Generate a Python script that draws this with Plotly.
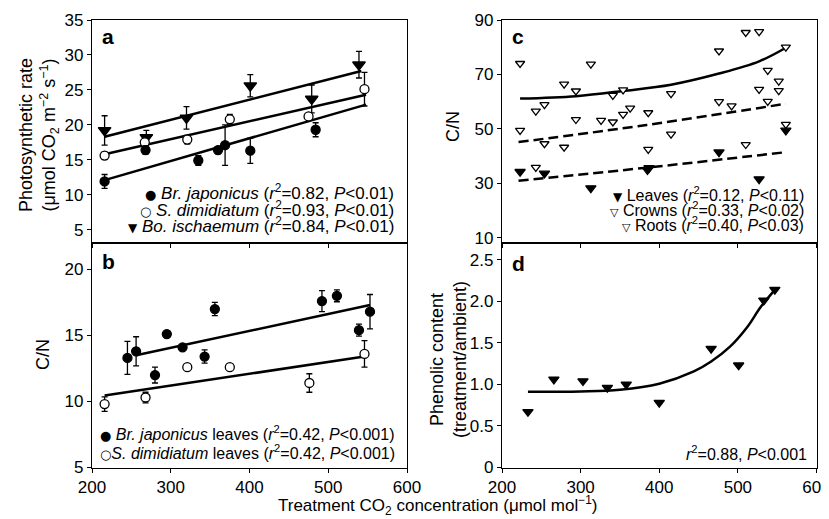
import plotly.graph_objects as go

# Panel a: photosynthetic rate
a_br_x = [216, 268, 335, 360, 369, 401, 484]
a_br_y = [11.9, 16.4, 14.9, 16.4, 17.1, 16.3, 19.3]
a_br_err = [1.0, 0.6, 0.7, 0.5, 2.9, 1.8, 1.0]
a_sd_x = [216, 267, 321, 375, 475, 546]
a_sd_y = [15.6, 17.5, 17.9, 20.8, 21.2, 25.1]
a_sd_err = [0.5, 0.4, 0.6, 0.7, 0.4, 2.4]
a_bo_x = [216, 269, 320, 401, 479, 539]
a_bo_y = [19.2, 18.2, 21.0, 25.6, 23.7, 28.6]
a_bo_err = [2.1, 1.0, 1.6, 1.6, 2.0, 1.9]
a_br_fit_x, a_br_fit_y = [216, 548], [12.1, 22.9]
a_sd_fit_x, a_sd_fit_y = [216, 548], [15.8, 24.3]
a_bo_fit_x, a_bo_fit_y = [216, 542], [18.3, 27.7]

# Panel b: leaf C/N
b_br_x = [245, 256, 280, 295, 315, 343, 356, 492, 511, 539, 553]
b_br_y = [13.3, 13.8, 12.0, 15.1, 14.1, 13.4, 17.0, 17.6, 18.0, 15.4, 16.8]
b_br_err = [1.25, 1.1, 0.6, 0, 0, 0.5, 0.5, 0.8, 0.45, 0.45, 1.3]
b_sd_x = [216, 268, 321, 375, 476, 546]
b_sd_y = [9.8, 10.3, 12.6, 12.6, 11.4, 13.6]
b_sd_err = [0.55, 0.4, 0, 0, 0.7, 1.0]
b_br_fit_x, b_br_fit_y = [256, 553], [13.5, 17.3]
b_sd_fit_x, b_sd_fit_y = [216, 546], [10.45, 13.4]

# Panel c: C/N of leaves, crowns, roots
c_roots_x = [223, 279, 294, 313, 341, 354, 415, 476, 510, 527, 527, 538, 552, 552, 561]
c_roots_y = [74.0, 66.4, 63.9, 73.8, 62.3, 64.3, 62.9, 78.6, 85.4, 85.7, 64.5, 71.5, 67.5, 64.0, 80.0]
c_crowns_x = [223, 243, 243, 254, 254, 279, 294, 326, 341, 354, 363, 386, 386, 415, 476, 492, 510, 538, 561]
c_crowns_y = [49.4, 56.5, 35.8, 58.9, 44.5, 43.2, 53.4, 53.1, 52.5, 55.3, 57.6, 55.9, 42.4, 48.0, 60.0, 58.4, 44.2, 60.1, 51.6]
c_leaves_x = [223, 254, 313, 385, 387, 476, 527, 561]
c_leaves_y = [34.2, 33.6, 28.2, 34.9, 35.6, 41.4, 31.5, 49.4]
c_roots_fit_x = [223, 294, 354, 415, 476, 527, 561]
c_roots_fit_y = [61.1, 62.0, 63.9, 66.2, 70.3, 74.8, 79.8]
c_crowns_fit_x, c_crowns_fit_y = [221, 384, 561], [45.1, 51.4, 59.2]
c_leaves_fit_x, c_leaves_fit_y = [221, 384, 561], [30.9, 35.7, 41.4]

# Panel d: phenolic content
d_x = [233, 266, 303, 334, 358, 400, 466, 501, 533, 547]
d_y = [0.67, 1.06, 1.04, 0.96, 1.00, 0.78, 1.43, 1.23, 2.01, 2.14]
d_fit_x = [233, 300, 350, 400, 444, 466, 490, 512, 529, 549]
d_fit_y = [0.91, 0.915, 0.935, 1.007, 1.155, 1.274, 1.453, 1.69, 1.93, 2.157]

W, H = 829, 519
PAD = 8  # default body margin of the page
FONT = "Liberation Sans, Arial, sans-serif"


def px(x):
    return (x - PAD) / W


def py(y):
    return 1 - (y - PAD) / H


fig = go.Figure()


def fit(x, y, xa, ya, dash="solid"):
    fig.add_trace(go.Scatter(x=x, y=y, mode="lines", xaxis=xa, yaxis=ya,
                             line=dict(color="black", width=2.5, dash=dash, shape="spline"),
                             hoverinfo="skip"))


def pts(x, y, xa, ya, symbol, fill, err=None, size=9):
    fig.add_trace(go.Scatter(
        x=x, y=y, mode="markers", xaxis=xa, yaxis=ya,
        marker=dict(symbol=symbol, size=size, color=fill, line=dict(color="black", width=1.3)),
        error_y=dict(type="data", array=err, color="black", thickness=1.3, width=3,
                     visible=err is not None)))


# a
fit(a_br_fit_x, a_br_fit_y, "x", "y")
fit(a_sd_fit_x, a_sd_fit_y, "x", "y")
fit(a_bo_fit_x, a_bo_fit_y, "x", "y")
pts(a_bo_x, a_bo_y, "x", "y", "triangle-down", "black", a_bo_err, 11)
pts(a_sd_x, a_sd_y, "x", "y", "circle", "white", a_sd_err)
pts(a_br_x, a_br_y, "x", "y", "circle", "black", a_br_err)

# b
fit(b_br_fit_x, b_br_fit_y, "x2", "y2")
fit(b_sd_fit_x, b_sd_fit_y, "x2", "y2")
pts(b_br_x, b_br_y, "x2", "y2", "circle", "black", b_br_err)
pts(b_sd_x, b_sd_y, "x2", "y2", "circle", "white", b_sd_err)

# c
fit(c_roots_fit_x, c_roots_fit_y, "x3", "y3")
fit(c_crowns_fit_x, c_crowns_fit_y, "x3", "y3", "10px,5px")
fit(c_leaves_fit_x, c_leaves_fit_y, "x3", "y3", "10px,5px")
pts(c_roots_x, c_roots_y, "x3", "y3", "triangle-down", "white", size=8)
pts(c_crowns_x, c_crowns_y, "x3", "y3", "triangle-down", "white", size=8)
pts(c_leaves_x, c_leaves_y, "x3", "y3", "triangle-down", "black", size=9)

# d
fit(d_fit_x, d_fit_y, "x4", "y4")
pts(d_x, d_y, "x4", "y4", "triangle-down", "black", size=9)

left = [px(92), px(407)]
right = [px(502), px(816.5)]
top = [py(243), py(20)]
bottom = [py(467.5), py(243)]

ax = dict(showline=True, linecolor="black", linewidth=1.2, mirror=True, ticks="outside",
          ticklen=4, tickwidth=1.2, tickcolor="black", showgrid=False, zeroline=False,
          tickfont=dict(size=17, color="black"))
xticks = dict(range=[200, 600], tickvals=[200, 300, 400, 500, 600])

fig.update_layout(
    width=W, height=H, margin=dict(l=0, r=0, t=0, b=0, autoexpand=False),
    plot_bgcolor="white", paper_bgcolor="white", showlegend=False,
    font=dict(family=FONT, color="black"),
    xaxis=dict(**ax, **xticks, domain=left, anchor="y", showticklabels=False),
    yaxis=dict(**ax, domain=top, anchor="x", range=[3.1, 35], tickvals=[5, 10, 15, 20, 25, 30, 35]),
    xaxis2=dict(**ax, **xticks, domain=left, anchor="y2"),
    yaxis2=dict(**ax, domain=bottom, anchor="x2", range=[5, 22], tickvals=[5, 10, 15, 20]),
    xaxis3=dict(**ax, **xticks, domain=right, anchor="y3", showticklabels=False),
    yaxis3=dict(**ax, domain=top, anchor="x3", range=[8, 90], tickvals=[10, 30, 50, 70, 90]),
    xaxis4=dict(**ax, **xticks, domain=right, anchor="y4"),
    yaxis4=dict(**ax, domain=bottom, anchor="x4", range=[0, 2.7],
                tickvals=[0, 0.5, 1, 1.5, 2, 2.5], ticktext=["0", "0.5", "1.0", "1.5", "2.0", "2.5"]),
)


def note(text, x, y, size=16, xanchor="right", angle=0):
    fig.add_annotation(text=text, x=px(x), y=py(y), xref="paper", yref="paper",
                       xanchor=xanchor, yanchor="middle", showarrow=False, textangle=angle,
                       font=dict(size=size, color="black"))


def glyph(ch, size=13):
    return f'<span style="font-family:DejaVu Sans;font-size:{size}px">{ch}</span>'


R2 = "(<i>r</i><sup>2</sup>="

# panel letters
note("<b>a</b>", 100, 37, 21, "left")
note("<b>b</b>", 100, 261, 21, "left")
note("<b>c</b>", 510, 37, 21, "left")
note("<b>d</b>", 510, 263, 21, "left")

# legends
note(glyph("●") + " <i>Br. japonicus</i> " + R2 + "0.82, <i>P</i>&lt;0.01)", 396, 192, 17)
note(glyph("○") + " <i>S. dimidiatum</i> " + R2 + "0.93, <i>P</i>&lt;0.01)", 396, 209, 17)
note(glyph("▼", 12) + " <i>Bo. ischaemum</i> " + R2 + "0.84, <i>P</i>&lt;0.01)", 396, 225, 17)
note(glyph("●") + " <i>Br. japonicus</i> leaves " + R2 + "0.42, <i>P</i>&lt;0.001)", 397, 433)
note(glyph("○") + "<i>S. dimidiatum</i> leaves " + R2 + "0.42, <i>P</i>&lt;0.001)", 397, 452)
note(glyph("▼", 12) + " Leaves " + R2 + "0.12, <i>P</i>&lt;0.11)", 806, 194)
note(glyph("▽", 11) + " Crowns " + R2 + "0.33, <i>P</i>&lt;0.02)", 806, 209)
note(glyph("▽", 11) + " Roots " + R2 + "0.40, <i>P</i>&lt;0.03)", 806, 224)
note("<i>r</i><sup>2</sup>=0.88, <i>P</i>&lt;0.001", 809, 453)

# axis titles
note("Photosynthetic rate<br>(μmol CO<sub>2</sub> m<sup>−2</sup> s<sup>−1</sup>)", 39, 135, 18, "center", -90)
note("C/N", 43, 355, 18, "center", -90)
note("C/N", 453, 126, 18, "center", -90)
note("Phenolic content<br>(treatment/ambient)", 448, 360, 18, "center", -90)
note("Treatment CO<sub>2</sub> concentration (μmol mol<sup>−1</sup>)", 437, 505, 17, "center")

fig.write_html("out.html")
